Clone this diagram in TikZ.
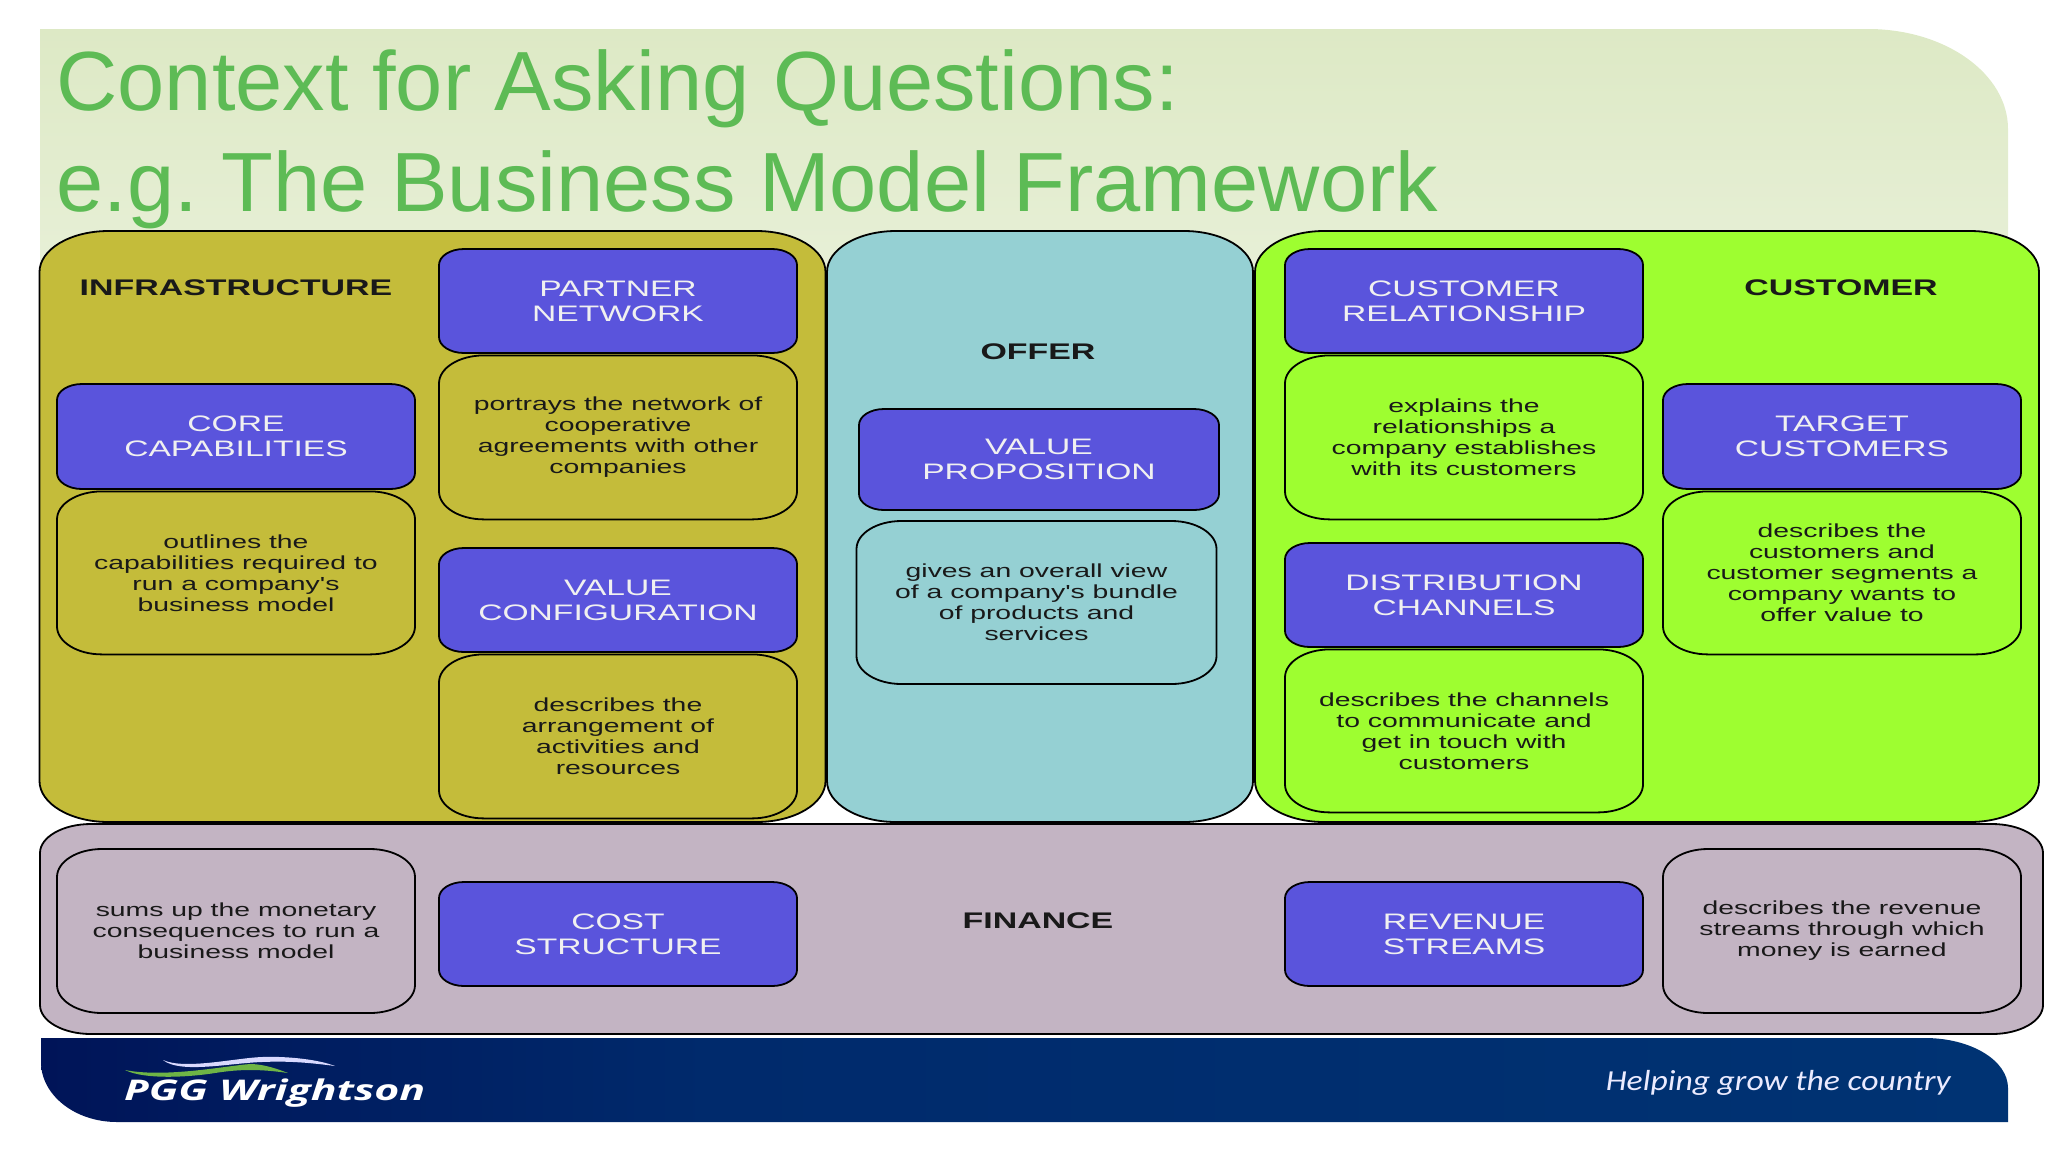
\documentclass[tikz,border=0pt]{standalone}
\usepackage{fontspec}
\usetikzlibrary{positioning}
\setmainfont{Liberation Sans}
\newfontfamily\widefont[FakeStretch=1.5]{Liberation Sans}
\newfontfamily\titlefont[FakeStretch=1.01]{Liberation Sans}
\newfontfamily\logofont[FakeStretch=1.5]{Open Sans}
\newfontfamily\tagfont[FakeStretch=1.16]{Carlito}
\definecolor{bgt}{RGB}{221,233,197}
\definecolor{bgb}{RGB}{232,240,216}
\definecolor{ttl}{RGB}{93,187,85}
\definecolor{inf}{RGB}{196,188,58}
\definecolor{ofr}{RGB}{149,208,211}
\definecolor{cst}{RGB}{158,254,48}
\definecolor{fin}{RGB}{195,180,195}
\definecolor{blu}{RGB}{90,84,220}
\definecolor{nvl}{RGB}{0,20,88}
\definecolor{nvm}{RGB}{0,42,108}
\definecolor{nvr}{RGB}{0,51,115}
\definecolor{swg}{RGB}{110,180,70}
\pgfdeclarehorizontalshading{footgrad}{100bp}{color(0bp)=(nvl);color(25bp)=(nvl);color(42bp)=(nvm);color(75bp)=(nvr);color(100bp)=(nvr)}
\tikzset{
  ebox/.style n args={3}{inner sep=0pt,path picture={
    \draw[black,line width=1.8pt,fill=#3,line join=round]
      ([xshift=#1,yshift=-1pt]path picture bounding box.north west)
      -- ([xshift=-#1,yshift=-1pt]path picture bounding box.north east)
      arc[start angle=90,end angle=0,x radius=#1-1pt,y radius=#2-1pt]
      -- ([xshift=-1pt,yshift=#2]path picture bounding box.south east)
      arc[start angle=0,end angle=-90,x radius=#1-1pt,y radius=#2-1pt]
      -- ([xshift=#1,yshift=1pt]path picture bounding box.south west)
      arc[start angle=270,end angle=180,x radius=#1-1pt,y radius=#2-1pt]
      -- ([xshift=1pt,yshift=-#2]path picture bounding box.north west)
      arc[start angle=180,end angle=90,x radius=#1-1pt,y radius=#2-1pt]
      -- cycle;
  }},
  panel/.style={ebox={70pt}{42pt}{#1}},
  bluebox/.style={ebox={26pt}{17pt}{blu},minimum width=360pt,minimum height=#1,
    align=center,text=white!94!black,font=\widefont\fontsize{22.4}{25}\selectfont},
  bluebox/.default=106pt,
  txtbox/.style={ebox={46pt}{29pt}{none},minimum width=360pt,minimum height=#1,
    align=center,text=black!90,font=\widefont\fontsize{18.9}{21}\selectfont},
  txtbox/.default=166pt,
  grouplbl/.style={text=black!90,font=\widefont\bfseries\fontsize{22.6}{25}\selectfont},
  titlelbl/.style={anchor=base west,text=ttl,font=\titlefont\fontsize{84}{90}\selectfont},
}
\begin{document}
\begin{tikzpicture}[x=1pt,y=-1pt,node distance=0pt]
  \useasboundingbox (0,0) rectangle (2048,1152);
  % title area
  \path[top color=bgt,bottom color=bgb] (40,29) -- (1868,29)
    arc[start angle=90,end angle=0,x radius=140pt,y radius=100pt] -- (2008,290) -- (40,290) -- cycle;
  \node[titlelbl] (title1) at (53,110) {Context for Asking Questions:};
  \node[titlelbl] (title2) at (53,211) {e.g.\ The Business Model Framework};
  % the panels
  \node[panel=inf,minimum width=788pt,minimum height=593pt] (infra) at (432.5,526.5) {};
  \node[panel=ofr,minimum width=428pt,minimum height=593pt] (offer) at (1040,526.5) {};
  \node[panel=cst,minimum width=786pt,minimum height=593pt] (cust) at (1647,526.5) {};
  \node[ebox={52pt}{30pt}{fin},minimum width=2005pt,minimum height=212pt] (finance) at (1041.5,929) {};
  % infrastructure
  \node[grouplbl] (inflbl) at (236,288) {INFRASTRUCTURE};
  \node[bluebox] (partner) at (618,301) {PARTNER\\NETWORK};
  \node[txtbox,below=of partner] (partnertxt) {portrays the network of\\cooperative\\agreements with other\\companies};
  \node[bluebox=107pt] (core) at (236,436.5) {CORE\\CAPABILITIES};
  \node[txtbox=165pt,below=of core] (coretxt) {outlines the\\capabilities required to\\run a company's\\business model};
  \node[bluebox] (config) at (618,600) {VALUE\\CONFIGURATION};
  \node[txtbox,below=of config] (configtxt) {describes the\\arrangement of\\activities and\\resources};
  % offer
  \node[grouplbl] (ofrlbl) at (1038,352) {OFFER};
  \node[bluebox=103pt,minimum width=362pt] (prop) at (1039,459.5) {VALUE\\PROPOSITION};
  \node[txtbox=165pt,minimum width=362pt] (proptxt) at (1036.5,602.5) {gives an overall view\\of a company's bundle\\of products and\\services};
  % customer
  \node[grouplbl] (cstlbl) at (1841,288) {CUSTOMER};
  \node[bluebox] (relation) at (1464,301) {CUSTOMER\\RELATIONSHIP};
  \node[txtbox,below=of relation] (relationtxt) {explains the\\relationships a\\company establishes\\with its customers};
  \node[bluebox=107pt] (target) at (1842,436.5) {TARGET\\CUSTOMERS};
  \node[txtbox=165pt,below=of target] (targettxt) {describes the\\customers and\\customer segments a\\company wants to\\offer value to};
  \node[bluebox] (channels) at (1464,595) {DISTRIBUTION\\CHANNELS};
  \node[txtbox=165pt,below=of channels] (channelstxt) {describes the channels\\to communicate and\\get in touch with\\customers};
  % finance
  \node[txtbox] (coststxt) at (236,931) {sums up the monetary\\consequences to run a\\business model};
  \node[bluebox] (cost) at (618,934) {COST\\STRUCTURE};
  \node[grouplbl] (finlbl) at (1038,921) {FINANCE};
  \node[bluebox] (revenue) at (1464,934) {REVENUE\\STREAMS};
  \node[txtbox] (revenuetxt) at (1842,931) {describes the revenue\\streams through which\\money is earned};
  % footer
  \path[shading=footgrad] (41,1038) -- (1925,1038)
    arc[start angle=90,end angle=0,x radius=83pt,y radius=50pt] -- (2008,1122) -- (117,1122)
    arc[start angle=270,end angle=180,x radius=76pt,y radius=60pt] -- cycle;
  \fill[swg] (125,1070) .. controls (165,1078) and (225,1066) .. (250,1064) .. controls (265,1064) and (280,1070) .. (288,1073)
    .. controls (260,1069) and (240,1069) .. (215,1073) .. controls (190,1077) and (145,1080) .. (125,1070) -- cycle;
  \fill[white!85!blue] (163,1060) .. controls (185,1070) and (235,1058) .. (262,1057) .. controls (290,1056) and (320,1060) .. (335,1066)
    .. controls (305,1062) and (285,1061) .. (262,1062) .. controls (230,1063) and (180,1074) .. (163,1060) -- cycle;
  \node[anchor=base west,inner sep=0pt,text=white,font=\logofont\bfseries\itshape\fontsize{28.5}{30}\selectfont] (logo) at (124,1100) {PGG Wrightson};
  \node[anchor=base east,inner sep=0pt,text=white!92!blue,font=\tagfont\itshape\fontsize{29}{30}\selectfont] (tagline) at (1951,1090) {Helping grow the country};
\end{tikzpicture}
\end{document}
